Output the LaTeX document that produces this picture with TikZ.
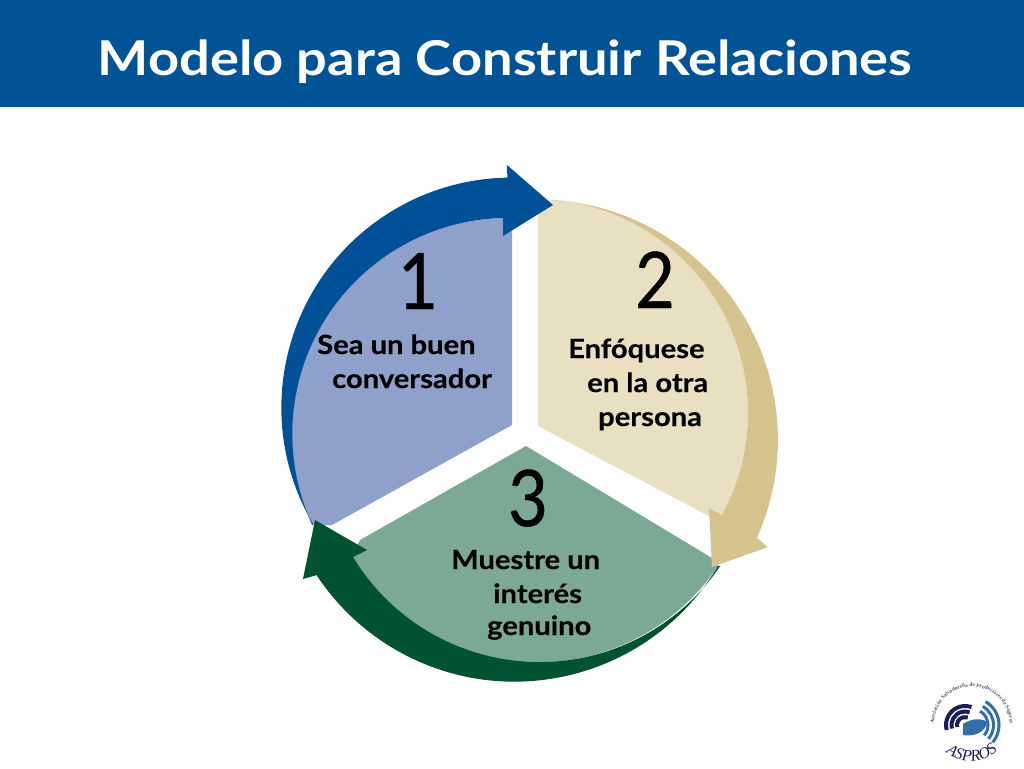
\documentclass[tikz,border=0pt]{standalone}
\usepackage{fontspec}
\setmainfont{Lato}
\newfontfamily\logoserif{Liberation Serif}
\newfontfamily\titlefont[FakeStretch=1.13]{Lato}
\newfontfamily\labelfont[FakeStretch=1.1,FakeBold=0.4]{Lato}
\newfontfamily\numfont[FakeStretch=0.88,FakeBold=0.6]{Lato}
\usetikzlibrary{decorations.text}
\definecolor{headblue}{RGB}{0,84,150}
\definecolor{lblue}{RGB}{143,160,203}
\definecolor{dblue}{RGB}{0,80,152}
\definecolor{ltan}{RGB}{233,224,194}
\definecolor{dtan}{RGB}{214,196,143}
\definecolor{lgreen}{RGB}{123,169,150}
\definecolor{dgreen}{RGB}{0,82,48}
\definecolor{navy}{RGB}{28,30,88}
\definecolor{midblue}{RGB}{50,110,170}
\definecolor{logogrey}{RGB}{90,90,110}
\tikzset{
  lbl/.style={inner sep=0pt,anchor=base west,font=\labelfont\bfseries\fontsize{26.5}{26.5}\selectfont,text=black},
  numeral/.style={inner sep=0pt,anchor=base,font=\numfont\fontsize{78}{78}\selectfont,text=black},
}
\begin{document}
\begin{tikzpicture}[x=1pt,y=-1pt]
\useasboundingbox (0,0) rectangle (1024,768);
\fill[white] (0,0) rectangle (1024,768);
\fill[headblue] (0,0) rectangle (1024,107);
\node[inner sep=0pt,anchor=base,font=\titlefont\bfseries\fontsize{48}{48}\selectfont,text=white] (title) at (505,75) {Modelo para Construir Relaciones};

% sector 1
\fill[lblue] (512,425) -- (332,525) -- (312,525)
  arc[start angle=155.1,end angle=268.6,radius=216] -- (512,217) -- cycle;
% sector 2
\fill[ltan] (538,426) -- (722,523) -- (722,515)
  arc[start angle=28.5,end angle=-85,radius=214] -- (538,205) -- cycle;
% sector 3
\fill[lgreen] (526,446) -- (712,558) -- (718,566)
  arc[start angle=33.9,end angle=148.8,radius=218] -- (360,540) -- cycle;

% arrow 1
\fill[dblue] (313,524)
  arc[start angle=149.6,end angle=269,radius=230]
  -- (507,165) -- (553,205) -- (503,236) -- (503,218)
  arc[start angle=268.6,end angle=155.1,radius=216] -- cycle;
% arrow 2
\fill[dtan] (553,200)
  arc[start angle=-86.4,end angle=24.2,radius=240]
  -- (768,547) -- (712,567) -- (709,508) -- (722,515)
  arc[start angle=28.5,end angle=-85,radius=214] -- cycle;
% arrow 3
\fill[dgreen] (718,566)
  arc[start angle=30.8,end angle=146.6,radius=237]
  -- (303,579) -- (315,520) -- (367,550) -- (353,557)
  arc[start angle=148.8,end angle=33.9,radius=218] -- cycle;

% numerals
\node[numeral] (n1) at (418,309) {1};
\node[numeral] (n2) at (655,308) {2};
\node[numeral] (n3) at (528,526) {3};

% labels
\node[lbl] (a1) at (317,354) {Sea un buen};
\node[lbl] (a2) at (332,388) {conversador};
\node[lbl] (b1) at (568,358) {Enfóquese};
\node[lbl] (b2) at (587,392) {en la otra};
\node[lbl] (b3) at (598,426) {persona};
\node[lbl] (c1) at (451,569) {Muestre un};
\node[lbl] (c2) at (493,603) {interés};
\node[lbl] (c3) at (487,635) {genuino};

% logo
\foreach \r in {8,13.5,19}{
  \draw[navy,line width=4pt] (965,725) ++(165:\r) arc[start angle=165,end angle=290,radius=\r];
}
\fill[midblue] (963,724) .. controls (972,718) and (982,718) .. (987,722) .. controls (986,732) and (974,737) .. (963,735) -- cycle;
\foreach \r in {16,21.5,27}{
  \draw[midblue,line width=3pt] (972,725) ++(-60:\r) arc[start angle=-60,end angle=40,radius=\r];
}
\path[decorate,decoration={text along path,text align=center,
   text={|\logoserif\bfseries\fontsize{5.4}{5.4}\selectfont\color{logogrey}|Asociación Salvadoreña de Productores de Seguros}}]
   (935,734) arc[start angle=166,end angle=374,radius=38];
\path[decorate,decoration={text along path,text align=center,
   text={|\logoserif\itshape\fontsize{16}{16}\selectfont\color{navy}|ASPROS}}]
   (944,751) .. controls (958,765) and (985,765) .. (999,748);
\end{tikzpicture}
\end{document}
